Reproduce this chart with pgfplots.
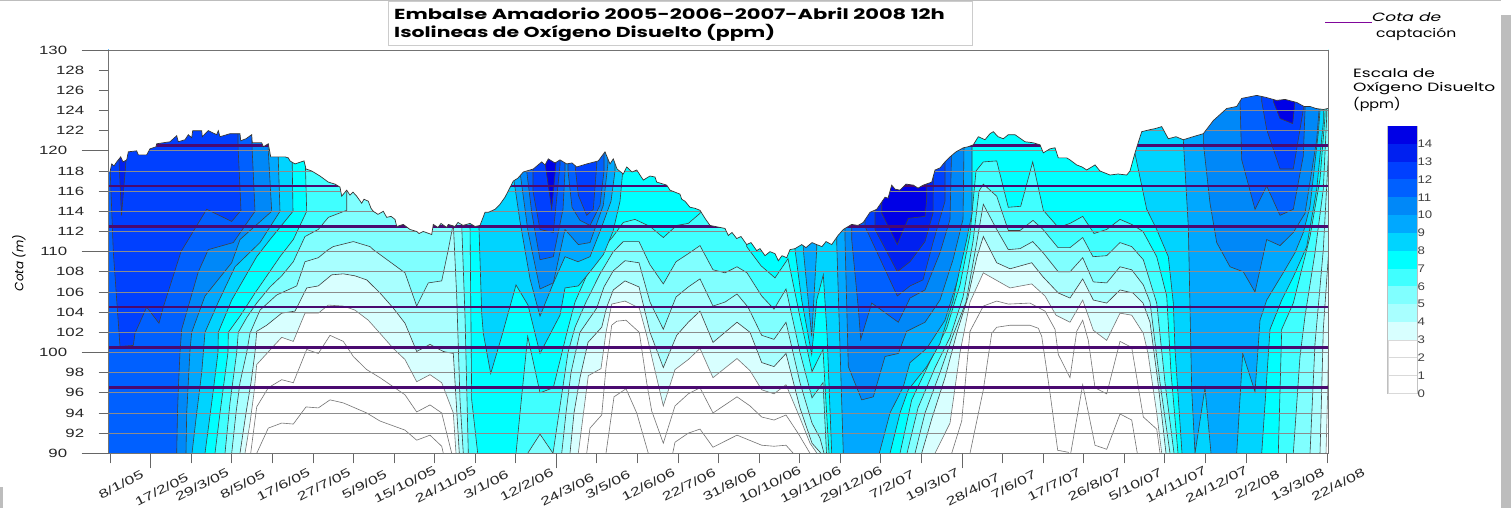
\documentclass[border=0pt]{standalone}
\usepackage{pgfplots}
\pgfplotsset{compat=1.18}
\usepackage{fontspec}
\setmainfont{Liberation Sans}
\newfontfamily\comic{Poppins}
\definecolor{cA}{HTML}{0000E6}\definecolor{cB}{HTML}{0020F0}\definecolor{cC}{HTML}{0040FF}\definecolor{cD}{HTML}{0060FF}
\definecolor{cE}{HTML}{0088F8}\definecolor{cF}{HTML}{00A8FF}\definecolor{cG}{HTML}{00D4FF}\definecolor{cH}{HTML}{00FFFF}
\definecolor{cI}{HTML}{40FFFF}\definecolor{cJ}{HTML}{80FFFF}\definecolor{cK}{HTML}{A8FFFF}\definecolor{cL}{HTML}{D8FFFF}
\definecolor{cP}{HTML}{4A0A70}\definecolor{cS}{HTML}{BDBDBD}
\newcommand\xl[1]{\scalebox{1.45}[1]{#1}}
\newcommand\yl[1]{\scalebox{1.4}[1]{#1}}
\newcommand\lw[1]{\scalebox{1.42}[1]{#1}}
\pgfplotsset{lv/.style={fill=#1,draw=black!75,line width=.6pt},lw/.style={fill=#1,draw=black!55,line width=.6pt},
 gl/.style={draw=black!45,line width=.7pt},pl/.style={draw=cP,line width=2.6pt}}
\begin{document}
\begin{tikzpicture}[x=1pt,y=1pt]
\useasboundingbox (-108.7,-54.7) rectangle (1402.3,453.3);
\fill[cS] (-108.7,452) rectangle (1392.3,453.3);
\fill[cS] (1392.3,-54.7) rectangle (1402.3,438.3);
\fill[cS] (-108.7,-54.7) rectangle (-105.7,-33.7);
\begin{axis}[at={(0pt,0pt)},anchor=south west,scale only axis,width=1219.3pt,height=403.3pt,
 xmin=108.7,xmax=1328,ymin=90,ymax=130,axis on top,
 axis line style={draw=black!55,line width=.8pt},
 tick align=outside,xtick pos=bottom,ytick pos=left,
 tick style={draw=black!60,line width=.8pt},major tick length=10pt,
 xtick={110,191.1,231.7,272.3,312.9,353.4,394,434.6,475.1,515.7,596.8,637.4,678,718.6,759.1,799.7,840.3,880.8,921.4,1002.5,1043.1,1083.7,1124.3,1164.8,1205.4,1246,1286.5,1327.1},
 xticklabels={\xl{8/1/05},\xl{29/3/05},\xl{8/5/05},\xl{17/6/05},\xl{27/7/05},\xl{5/9/05},\xl{15/10/05},\xl{24/11/05},\xl{3/1/06},\xl{12/2/06},\xl{3/5/06},\xl{12/6/06},\xl{22/7/06},\xl{31/8/06},\xl{10/10/06},\xl{19/11/06},\xl{29/12/06},\xl{7/2/07},\xl{19/3/07},\xl{7/6/07},\xl{17/7/07},\xl{26/8/07},\xl{5/10/07},\xl{14/11/07},\xl{24/12/07},\xl{2/2/08},\xl{13/3/08},\xl{22/4/08}},
 extra x ticks={150.6,556.3,962},
 extra x tick labels={\xl{17/2/05},\xl{24/3/06},\xl{28/4/07}},
 extra x tick style={major tick length=15pt},
 xticklabel style={font=\fontsize{12}{12}\selectfont,rotate=27,anchor=center,yshift=-24pt,text=black!85},
 ytick={92,94,96,98,102,104,106,108,112,114,116,118,122,124,126,128},
 yticklabels={\yl{92},\yl{94},\yl{96},\yl{98},\yl{102},\yl{104},\yl{106},\yl{108},\yl{112},\yl{114},\yl{116},\yl{118},\yl{122},\yl{124},\yl{126},\yl{128}},
 extra y ticks={90,100,110,120,130},
 extra y tick labels={\yl{90},\yl{100},\yl{110},\yl{120},\yl{130}},
 extra y tick style={major tick length=27pt},
 yticklabel style={font=\fontsize{12}{12}\selectfont,text=black!85,xshift=-11pt},
 ylabel={\comic\itshape Cota (m)},
 every axis y label/.style={at={(axis description cs:-0.0736,0.472)},rotate=90,anchor=center,font=\fontsize{12}{12}\selectfont},
]
% base band 7-8
\addplot[fill=cH,draw=none] coordinates {(100,85)(1340,85)(1340,135)(100,135)} --cycle;
% ---- low lobes, z < level : first lobe
\addplot[lv=cI] coordinates {(215,85)(215,90)(220,94)(228,100)(228.3,102)(240,103.6)(255,105.9)(262,106.9)(280,109.5)(293.3,111.2)(306.7,114)(305,120)(305,135)(470,135)(470,112.7)(471.7,95.3)(477.7,90)(477.7,85)} --cycle;
\addplot[lv=cJ] coordinates {(225,85)(225,90)(230,95)(236.7,100)(238.3,102)(247,103.5)(256.7,104.9)(270,106.5)(281.7,107.6)(293.3,109)(305,111.5)(318.3,112.2)(328.3,113.4)(346.7,114.1)(346.7,116)(347,135)(461.7,135)(461.7,112.7)(465,103.6)(468.3,90)(468.3,85)} --cycle;
\addplot[lv=cK] coordinates {(231.7,85)(231.7,90)(236,94)(240,97)(246.7,100)(250,101.9)(260,104.2)(276.7,105.7)(296.7,106.6)(305,109)(318.3,109.4)(328.3,110.2)(333.3,110.5)(353.3,111)(370,110.5)(373.3,110.2)(405,107.9)(416.7,104.6)(428.3,106.9)(441.7,107.1)(448.3,110.2)(453.3,112.8)(456.7,105.6)(460,95.3)(463.3,90)(463.3,85)} --cycle;
\addplot[lv=cL] coordinates {(240,85)(240,90)(246,94)(251,97)(255,100)(256.7,102.1)(266.7,102.7)(281.7,103.9)(295,104.1)(306.7,106.4)(318.3,106.6)(331.7,107.7)(343.3,107.8)(355,107.6)(366.7,107.2)(380,105.9)(393.3,104.4)(405,102.9)(416.7,100.1)(430,100.8)(443.3,100.1)(453.3,99.9)(459.3,90)(459.3,85)} --cycle;
\addplot[lw=white] coordinates {(245,85)(245,90)(250,93)(254,96)(256.7,98.8)(273.3,100.6)(281.7,101.5)(293.3,101.1)(305,103.9)(318.3,103.9)(328.3,104.7)(343.3,104.6)(355,104.2)(368.3,103.2)(380,101.9)(393.3,100.4)(405,99.3)(416.7,97.1)(430,97.8)(441.7,97)(453.3,94)(456,90)(456,85)} --cycle;
\addplot[lw=white] coordinates {(250.7,85)(250.7,90)(256.7,94.6)(268.3,96.5)(281.7,97.3)(293.3,97)(306.7,100.3)(318.3,99.9)(330,101.7)(343.3,101.1)(353.3,99.6)(366.7,98.3)(380,97.5)(405,95.8)(416.7,94.1)(430,94.8)(441.7,94)(451.7,90)(451.7,85)} --cycle;
\addplot[lw=white] coordinates {(256.7,85)(256.7,90)(268.3,92.5)(281.7,93)(293.3,92.9)(306,94.6)(318.3,94.5)(330,95.3)(343.3,95)(366.7,94)(380,93.2)(405,92.3)(416.7,91.3)(430,91.8)(441.7,90.7)(443.3,90)(443.3,85)} --cycle;
% second lobe
\addplot[lv=cI] coordinates {(516,85)(516,90)(527.7,101.6)(540,96)(553.3,96.5)(566.7,101.9)(575,105)(590,108.4)(600,110)(613,111.5)(623.3,112.9)(635,113.2)(650,112.5)(663.3,111.4)(676.7,112.6)(688.3,112.8)(700,113.8)(703,115)(703,135)(745,135)(746.7,110.5)(761,108.6)(775,107.4)(788,109.3)(800,103.5)(812,98.1)(823,100.3)(826,95)(829,90)(829,85)} --cycle;
\addplot[lv=cJ] coordinates {(527.7,85)(527.7,90)(540,91.9)(553,90)(562,96)(568,100)(575,102.5)(586,105)(600,107.8)(613.3,110)(623.3,111)(639,111)(650,108.7)(663.3,106.8)(676,109)(688.3,109.8)(700,110.6)(713,108.2)(725,107.9)(737,108.5)(747,107.9)(761.7,105.6)(774,104.3)(786,106.3)(800,100)(812,95.5)(823,97)(825.5,92)(826.5,90)(826.5,85)} --cycle;
\addplot[lv=cK] coordinates {(561.7,85)(561.7,90)(566,94)(571,98)(580,102)(596.7,104.4)(604,106.5)(613.3,108.1)(625,109.1)(639,108.9)(650,105)(663.3,102.3)(676,105.5)(688.3,106.5)(700,107.3)(713,104.6)(725,105)(737,105.8)(748,104.5)(761.7,101.7)(774,101.3)(786,103)(800,97)(812,93)(820,91.5)(824,90)(824,85)} --cycle;
\addplot[lv=cL] coordinates {(570,85)(570,90)(574,94)(580,97.5)(588,101)(601.7,102.5)(606.7,104.5)(613.3,106.2)(625,107.1)(639,106.5)(650,102)(663.3,98.5)(676.7,101.7)(688.3,103)(700,104.1)(713,101)(737,103)(750,102)(761.7,99)(774,98.6)(786,99.9)(800,94.5)(812,91)(821,90)(821,85)} --cycle;
\addplot[lw=white] coordinates {(578.3,85)(578.3,90)(588.3,97.7)(601,98.4)(606,102)(611.7,104.8)(625,105.1)(639.3,104.4)(646.7,101.7)(663.3,94.7)(675,98.3)(688.3,99.3)(700,100.4)(713,97.5)(737,99.4)(750,98.2)(761.7,96.3)(774,95.9)(786,96.8)(800,93.5)(810,91)(817,90)(817,85)} --cycle;
\addplot[lw=white] coordinates {(586.7,85)(586.7,90)(590,92.5)(601.7,93.8)(606,98.5)(611.7,102.7)(616.7,103.1)(626,103.2)(639.3,102)(646.7,97)(651.7,94.2)(663.3,91)(675,94.7)(688.3,95.9)(700,96.5)(713,94)(737,95.6)(750,94.7)(761.7,93.6)(774,93.3)(786,93.8)(798,92)(810,90)(810,85)} --cycle;
\addplot[lw=white] coordinates {(606,85)(606,90)(614,95.6)(626,96.4)(636.7,94)(648.3,90)(648.3,85)} --cycle;
\addplot[lw=white] coordinates {(672.7,85)(672.7,90)(675,91.1)(688.3,92)(700,92.4)(713,90.6)(737,91.8)(761.7,90.8)(774,90.7)(786,90.8)(793.3,90)(793.3,85)} --cycle;
% third lobe
\addplot[lv=cI] coordinates {(900,85)(900,90)(911.7,95.3)(930,99.1)(946.7,102.4)(960,106.7)(970,111.7)(976,118)(983.3,118.9)(996.7,119)(1008.3,114.4)(1020.7,114.5)(1032.7,118.9)(1043.3,114.1)(1058.3,112.4)(1070,112.8)(1082.7,113.5)(1094,111.8)(1106.7,112.2)(1120,113.2)(1131.7,112.7)(1143,112)(1156.7,109.5)(1166.7,105.6)(1171,98)(1178,90)(1178,85)} --cycle;
\addplot[lv=cJ] coordinates {(907,85)(907,90)(918,94.5)(935,98.5)(950,101.5)(963,105.5)(973,111)(979,116)(983.3,116.7)(996.7,115.5)(1008.3,112.1)(1020,112.1)(1033,113.1)(1043,112.2)(1058,110.4)(1070,110.4)(1082.7,111.4)(1093,109.5)(1106.7,109.6)(1120,110.9)(1131.7,110.5)(1143.3,109.2)(1156.7,104.9)(1165,97)(1174,90)(1174,85)} --cycle;
\addplot[lv=cK] coordinates {(915,85)(915,90)(925,94)(940,98)(953,101.7)(966,105)(976,110.5)(983.3,114.7)(996.7,112.2)(1008.3,110.2)(1020,110.3)(1032.7,111)(1043,109.9)(1058.3,108)(1070,108)(1082.7,109.4)(1093.3,107)(1106.7,106.9)(1120,108.5)(1131.7,108.2)(1143.3,106.7)(1150,105)(1160,97)(1170,90)(1170,85)} --cycle;
\addplot[lv=cL] coordinates {(921.7,85)(921.7,90)(932,93.5)(945,97.5)(957,102)(968,105.5)(977,109.5)(983.3,111.5)(996.7,108.9)(1010,108.3)(1031.7,108.9)(1043,107.5)(1058.3,105.9)(1070,105.4)(1082.7,107.3)(1093.3,105.2)(1106.7,104.9)(1120,106.2)(1133,105.9)(1143,104.9)(1150,103)(1158,97)(1166,90)(1166,85)} --cycle;
\addplot[lw=white] coordinates {(935,85)(935,90)(950,93)(960,100)(970,105)(983.3,107.9)(1010,106.4)(1031.7,106.8)(1045,105.6)(1056,103.7)(1070,103)(1082.7,105.2)(1093.3,102.2)(1106.7,101.2)(1120,103.9)(1131.7,103.7)(1143.3,101.9)(1148,99.9)(1156.7,94)(1161.7,90)(1161.7,85)} --cycle;
\addplot[lw=white] coordinates {(951.7,85)(951.7,90)(961.7,93.2)(970,102.1)(983.3,104.6)(996.7,105.1)(1008.3,104.8)(1030,104.9)(1045,104.1)(1055,102.3)(1058.3,99.8)(1070,97.5)(1076.7,102.1)(1082.7,103.2)(1088.3,101.2)(1095,96.5)(1106.7,95.9)(1120,101.1)(1131.7,100.5)(1143.3,93.6)(1156.7,92.4)(1160,90)(1160,85)} --cycle;
\addplot[lw=white] coordinates {(970,85)(970,90)(983.3,96.3)(991.7,101.9)(996.7,102.5)(1010,102.7)(1030,102.7)(1038.3,102.4)(1041.7,101.6)(1050,96)(1057.7,90.3)(1068.3,90.1)(1070.7,85)} --cycle;
\addplot[lw=white] coordinates {(1070.7,85)(1070.7,90)(1082.7,96.8)(1095,90.8)(1106.7,90.4)(1120,93.9)(1131.7,93.3)(1137.3,90)(1137.3,85)} --cycle;
% right lobe
\addplot[lv=cI] coordinates {(1278.3,85)(1278.3,90)(1281.7,102.3)(1293.3,104.9)(1310,111.5)(1320,117.2)(1325,123.4)(1326,135)(1340,135)(1340,85)} --cycle;
\addplot[lv=cJ] coordinates {(1293.3,85)(1293.3,90)(1300,99.6)(1305,103.6)(1315,109.9)(1323.3,116.2)(1326.7,123.4)(1327,135)(1340,135)(1340,85)} --cycle;
\addplot[lv=cK] coordinates {(1310,85)(1310,90)(1315,100.9)(1323.3,110.2)(1328.3,119.5)(1340,119.5)(1340,85)} --cycle;
\addplot[lv=cL] coordinates {(1320,85)(1320,90)(1323.3,102.3)(1328.3,109.5)(1340,109.5)(1340,85)} --cycle;
\addplot[lw=white] coordinates {(1326,85)(1326,90)(1327.7,96.3)(1329,104)(1340,104)(1340,85)} --cycle;
% ---- high lobes, z > level : winter 2005
\addplot[lv=cG] coordinates {(205,85)(205,90)(213,96)(218,100)(218.3,102)(231.7,105.2)(256.7,109.5)(270,111.2)(293,114)(292,120)(292,135)(100,135)(100,85)} --cycle;
\addplot[lv=cF] coordinates {(192,85)(192,90)(196.7,94)(201.7,98)(205,102)(218.3,105)(235,108.5)(260,110.9)(280,114)(278,120)(278,135)(100,135)(100,85)} --cycle;
\addplot[lv=cE] coordinates {(186,85)(186,90)(186.7,94)(190,100.2)(191.7,102)(205,105.6)(231.7,108.9)(240,111.2)(271.7,114)(268,120.5)(268,135)(100,135)(100,85)} --cycle;
\addplot[lv=cD] coordinates {(176.7,85)(176.7,90)(177.5,94)(178.3,96.3)(180,100)(181.7,102.3)(198.3,108)(208.3,110.2)(233.3,110.9)(255,114)(252,120.5)(252,135)(100,135)(100,85)} --cycle;
\addplot[lv=cC] coordinates {(238,135)(238,120.5)(241,114.1)(231.7,113)(206.7,114.2)(181,110)(163.3,104.5)(159,102.9)(146.7,104.5)(135,101.9)(133.3,100.7)(120,100.6)(113.3,110)(110,118.5)(110,135)} --cycle;
\addplot[lv=cB] coordinates {(119,135)(119,119)(121.5,113.6)(126,119)(126,135)} --cycle;
% winter 2006
\addplot[lv=cG] coordinates {(479,135)(479,112.3)(481.7,103.9)(483.3,101.9)(490.7,97.9)(501.7,101.6)(516,106.7)(528,104.7)(540,99.9)(560,103.7)(565,106.4)(578.3,106.6)(590,108)(603.3,109.7)(613,112)(620,115)(623.3,118.6)(623,135)} --cycle;
\addplot[lv=cF] coordinates {(513.3,135)(513.3,117.5)(520,113)(530,107.3)(540,103.6)(553,106.8)(565,109.5)(578,109)(590,109.5)(600,112)(611,115)(615,118)(615,135)} --cycle;
\addplot[lv=cE] coordinates {(520,135)(520,117.9)(528,112)(540,106.3)(553.3,106.9)(565,112.2)(578.3,110.7)(590,110.9)(603.3,114.6)(608,118.8)(608,135)} --cycle;
\addplot[lv=cD] coordinates {(526.7,135)(526.7,118)(531.7,113.9)(540,109.2)(553.3,109.5)(563,114.2)(565,118)(565,135)} --cycle;
\addplot[lv=cD] coordinates {(568,135)(568,118)(572,114.4)(580,113.1)(590,112.6)(600,114.6)(604,118)(604,135)} --cycle;
\addplot[lv=cC] coordinates {(533,135)(533,116)(540,112.2)(553.3,111.9)(560,118.6)(560,135)} --cycle;
\addplot[lv=cC] coordinates {(575,135)(575,118.6)(578.3,115.6)(586.7,113.6)(593.3,114.2)(596.7,118.6)(596.7,135)} --cycle;
\addplot[lv=cA] coordinates {(543.3,135)(545,118.8)(551.7,114.2)(556,118.8)(556,135)} --cycle;
% winter 2006-07
\addplot[lv=cG] coordinates {(795,135)(795,110.2)(801.7,105.2)(811.7,99.8)(816.7,105.2)(823.3,107.7)(827,101.9)(831.7,90)(831.7,85)(890,85)(890,90)(900,94)(908.3,96.3)(926.7,98.6)(940,100.9)(953.3,105.2)(963.3,110.2)(970,115)(970,135)} --cycle;
\addplot[lv=cF] coordinates {(803.3,135)(803.3,110.2)(811.7,101.6)(816.7,110.2)(816.7,135)} --cycle;
\addplot[lv=cF] coordinates {(836.7,135)(836.7,110.9)(843.3,90)(843.3,85)(879.3,85)(879.3,90)(890,94)(903.3,96.6)(910,99)(926.7,100.4)(945,103.2)(956.7,106.9)(966.7,111.2)(972,113.8)(972,135)} --cycle;
\addplot[lv=cE] coordinates {(845,135)(845,111.2)(848.3,98.6)(861.7,95.3)(873.3,95.6)(885,99.6)(898.3,99.9)(906.7,102.1)(925,103)(940,105.2)(953,109.2)(963,113.2)(966,135)} --cycle;
\addplot[lv=cD] coordinates {(851.7,135)(851.7,111.2)(858.3,104.4)(860.7,101.3)(871.7,104.9)(898.3,103)(910,105.4)(925,106.2)(940,109.9)(950,113.2)(955,135)} --cycle;
\addplot[lv=cC] coordinates {(865,135)(865,112.5)(897.3,105.6)(910,106.6)(923,107.2)(933,110.9)(945,115)(945,135)} --cycle;
\addplot[lv=cB] coordinates {(875,135)(875,112.2)(897.3,108)(910,109)(925,111)(933,113.8)(935,135)} --cycle;
\addplot[lv=cA] coordinates {(881.7,135)(881.7,113.8)(897.3,110.7)(908.3,113.3)(925,113.5)(926.7,115.2)(926.7,135)} --cycle;
% winter 2007-08
\addplot[lv=cG] coordinates {(1133.3,135)(1133.3,120.5)(1146.7,114.2)(1156.7,112.2)(1168.3,109.5)(1173.3,104.9)(1175,100.3)(1182,90)(1182,85)(1261.7,85)(1261.7,90)(1270,102.3)(1281.7,105.2)(1293.3,107.5)(1306.7,110.5)(1316.7,116.2)(1323.3,122.8)(1323.3,135)} --cycle;
\addplot[lv=cF] coordinates {(1183.3,135)(1183.3,121.1)(1188.3,112.5)(1191.7,96.3)(1195,90)(1205,96.5)(1211,90)(1211,85)(1236.7,85)(1236.7,90)(1242.7,99.9)(1255,96.1)(1260,103.2)(1266.7,105.2)(1285,108.2)(1295,109.9)(1303.3,111.9)(1310,114.5)(1318.3,121.8)(1320,124)(1320,135)} --cycle;
\addplot[lv=cE] coordinates {(1203.3,135)(1203.3,120.8)(1210,114.8)(1216.7,110.9)(1230,108.5)(1243.3,108)(1255,106)(1266.7,111.2)(1280,110.6)(1293.3,111.9)(1305,113.8)(1316.7,121.1)(1319,124)(1319,135)} --cycle;
\addplot[lv=cD] coordinates {(1240,135)(1240,124.9)(1241.7,119.1)(1255,114.2)(1266.7,116.5)(1280,113.6)(1293.3,114.2)(1303.3,119.5)(1305,124)(1305,135)} --cycle;
\addplot[lv=cC] coordinates {(1261.7,135)(1261.7,124.9)(1266.7,122.1)(1280,118.2)(1293.3,118.2)(1303.3,124.1)(1303.3,135)} --cycle;
\addplot[lv=cA] coordinates {(1273.3,135)(1273.3,124.9)(1280,123.2)(1292.7,122.7)(1295,124.9)(1295,135)} --cycle;
% grid lines
\addplot[gl] coordinates {(100,92)(1340,92)};\addplot[gl] coordinates {(100,94)(1340,94)};\addplot[gl] coordinates {(100,96)(1340,96)};
\addplot[gl] coordinates {(100,98)(1340,98)};\addplot[gl] coordinates {(100,100)(1340,100)};\addplot[gl] coordinates {(100,102)(1340,102)};
\addplot[gl] coordinates {(100,104)(1340,104)};\addplot[gl] coordinates {(100,106)(1340,106)};\addplot[gl] coordinates {(100,108)(1340,108)};
\addplot[gl] coordinates {(100,110)(1340,110)};\addplot[gl] coordinates {(100,112)(1340,112)};\addplot[gl] coordinates {(100,114)(1340,114)};
\addplot[gl] coordinates {(100,116)(1340,116)};\addplot[gl] coordinates {(100,118)(1340,118)};\addplot[gl] coordinates {(100,120)(1340,120)};
\addplot[gl] coordinates {(100,122)(1340,122)};\addplot[gl] coordinates {(100,124)(1340,124)};\addplot[gl] coordinates {(100,126)(1340,126)};
% intake levels
\addplot[pl] coordinates {(100,96.5)(1340,96.5)};\addplot[pl] coordinates {(100,100.5)(1340,100.5)};\addplot[pl] coordinates {(100,104.5)(1340,104.5)};
\addplot[pl] coordinates {(100,112.5)(1340,112.5)};\addplot[pl] coordinates {(100,116.5)(1340,116.5)};\addplot[pl] coordinates {(100,120.5)(1340,120.5)};
% mask above the water surface, then the surface
\pgfplotstableread{
x y
110 117.9
111.7 118.7
114 118.5
116.7 118.9
120.7 119.4
123 118.9
126.7 119.1
128.3 119.9
136.7 120
138.3 119.6
146.7 119.6
150 120.2
156 120.4
156.7 120.7
163.3 120.8
170 120.9
176.7 121.5
178.3 120.9
185 121.1
188.3 121.6
191.7 121.3
192.7 122
201.7 122
202.3 121.4
208.3 122
216.7 121.6
218.3 122
220 121.4
230 121.7
240 121.7
240.7 121
246 121.2
251.7 121.6
252.3 120.8
261.7 120.8
263.3 120.4
268.3 120.7
270.7 119.4
285 119.4
288.3 119.3
290 119
295 118.7
304 119
306 118.2
311.7 118
320 117.5
328.3 116.9
335 116.7
340 116.4
341.7 115.5
346.7 116.1
350 115.6
353 115.9
356.7 115.5
361.7 114.8
364 115.2
368.3 115
371 114.3
373.3 114
378 113.7
383.3 114
386.7 113.4
391 113.5
395 113.2
396.7 112.5
403.3 112.7
410 112.2
416.7 112
419 111.8
423.3 112
431.7 111.7
433.3 112.7
438 112.4
441 112.8
446.7 112.4
448.3 112.7
455 112.5
458 112.9
463 112.6
470 112.8
475 112.5
480 112.6
485 113.9
488.3 113.9
495 114.2
500 114.7
505 115.4
513.3 117
518 117.3
523.3 117.9
533.3 118.2
541.7 118.9
545 118.6
548.3 119.2
555 118.8
560 119.1
566.7 118.7
572 118.8
576.7 118.4
586.7 118.7
598.3 119
605 119.9
610 118.7
613.3 119.2
617 118.2
623.3 117.7
626.7 118.4
632 117.9
636.7 118.1
643.3 117.1
650 117.5
655 117.4
656.7 116.9
666.7 116.6
670 116.1
680 115.7
681.7 115.2
685 115
690 114.4
695 114.3
700 114.1
705 113.3
710 112.6
720 112.4
725 112.3
728.3 111.6
732 111.9
736.7 111.3
741 111.5
746.7 110.7
751 110.9
756.7 110.1
760 110.3
765 109.6
770 110
775 109.8
778.3 109.1
782 109.6
786.7 109.4
790 110.2
795 110.3
801.7 110.7
806 110.4
812 110.9
816.7 110.7
822 110.5
826 111
831.7 110.7
838 111.6
843.3 112.2
851.7 112.7
858 112.6
863.3 112.9
870 113.9
876.7 114.2
885 115.4
888 115.3
891.7 116.6
895 116.2
900 116.1
906 116.7
913.3 116.6
918 116.3
923.3 116.6
931.7 116.9
935 118.1
940 118.3
945 118.9
950 119.4
956 119.9
963.3 120.3
968 120.4
973.3 120.6
978.3 121.4
985 121.1
990 121.7
993.3 121.9
998 121.4
1003.3 121.2
1008.3 121.6
1015 121.6
1025 120.9
1033 120.8
1040 120.6
1043.3 119.8
1050 120.2
1055 120.3
1058.3 119.3
1066.7 119.3
1070 119.1
1076.7 118.6
1082 118.4
1086.7 118.1
1095 118.6
1100 118
1110 117.6
1118 117.7
1126.7 117.6
1130 118
1135 119.8
1141.7 121.9
1150 122.1
1155 122.2
1161.7 122.4
1168.3 121.2
1176 121.4
1183.3 121.1
1193 121.4
1203.3 121.7
1213.3 123
1220 123.6
1226.7 124.2
1236.7 124.4
1241.7 125.2
1256.7 125.5
1266 125.3
1276.7 125
1285 125.1
1296.7 124.8
1304 124.4
1310 124.4
1316 124.2
1323.3 124.1
1328 124.2
}\surf
\addplot[fill=white,draw=none] table {
100 135
100 118
108 118
110 117.9
111.7 118.7
114 118.5
116.7 118.9
120.7 119.4
123 118.9
126.7 119.1
128.3 119.9
136.7 120
138.3 119.6
146.7 119.6
150 120.2
156 120.4
156.7 120.7
163.3 120.8
170 120.9
176.7 121.5
178.3 120.9
185 121.1
188.3 121.6
191.7 121.3
192.7 122
201.7 122
202.3 121.4
208.3 122
216.7 121.6
218.3 122
220 121.4
230 121.7
240 121.7
240.7 121
246 121.2
251.7 121.6
252.3 120.8
261.7 120.8
263.3 120.4
268.3 120.7
270.7 119.4
285 119.4
288.3 119.3
290 119
295 118.7
304 119
306 118.2
311.7 118
320 117.5
328.3 116.9
335 116.7
340 116.4
341.7 115.5
346.7 116.1
350 115.6
353 115.9
356.7 115.5
361.7 114.8
364 115.2
368.3 115
371 114.3
373.3 114
378 113.7
383.3 114
386.7 113.4
391 113.5
395 113.2
396.7 112.5
403.3 112.7
410 112.2
416.7 112
419 111.8
423.3 112
431.7 111.7
433.3 112.7
438 112.4
441 112.8
446.7 112.4
448.3 112.7
455 112.5
458 112.9
463 112.6
470 112.8
475 112.5
480 112.6
485 113.9
488.3 113.9
495 114.2
500 114.7
505 115.4
513.3 117
518 117.3
523.3 117.9
533.3 118.2
541.7 118.9
545 118.6
548.3 119.2
555 118.8
560 119.1
566.7 118.7
572 118.8
576.7 118.4
586.7 118.7
598.3 119
605 119.9
610 118.7
613.3 119.2
617 118.2
623.3 117.7
626.7 118.4
632 117.9
636.7 118.1
643.3 117.1
650 117.5
655 117.4
656.7 116.9
666.7 116.6
670 116.1
680 115.7
681.7 115.2
685 115
690 114.4
695 114.3
700 114.1
705 113.3
710 112.6
720 112.4
725 112.3
728.3 111.6
732 111.9
736.7 111.3
741 111.5
746.7 110.7
751 110.9
756.7 110.1
760 110.3
765 109.6
770 110
775 109.8
778.3 109.1
782 109.6
786.7 109.4
790 110.2
795 110.3
801.7 110.7
806 110.4
812 110.9
816.7 110.7
822 110.5
826 111
831.7 110.7
838 111.6
843.3 112.2
851.7 112.7
858 112.6
863.3 112.9
870 113.9
876.7 114.2
885 115.4
888 115.3
891.7 116.6
895 116.2
900 116.1
906 116.7
913.3 116.6
918 116.3
923.3 116.6
931.7 116.9
935 118.1
940 118.3
945 118.9
950 119.4
956 119.9
963.3 120.3
968 120.4
973.3 120.6
978.3 121.4
985 121.1
990 121.7
993.3 121.9
998 121.4
1003.3 121.2
1008.3 121.6
1015 121.6
1025 120.9
1033 120.8
1040 120.6
1043.3 119.8
1050 120.2
1055 120.3
1058.3 119.3
1066.7 119.3
1070 119.1
1076.7 118.6
1082 118.4
1086.7 118.1
1095 118.6
1100 118
1110 117.6
1118 117.7
1126.7 117.6
1130 118
1135 119.8
1141.7 121.9
1150 122.1
1155 122.2
1161.7 122.4
1168.3 121.2
1176 121.4
1183.3 121.1
1193 121.4
1203.3 121.7
1213.3 123
1220 123.6
1226.7 124.2
1236.7 124.4
1241.7 125.2
1256.7 125.5
1266 125.3
1276.7 125
1285 125.1
1296.7 124.8
1304 124.4
1310 124.4
1316 124.2
1323.3 124.1
1328 124.2
1340 124.2
1340 135
} --cycle;
\addplot[draw=black!80,line width=.7pt] table[x=x,y=y] {\surf};
\end{axis}
% title and legend texts
\draw[black!20,fill=white,line width=.8pt] (279.3,408) rectangle (864,452);
\node[anchor=west,font=\comic\bfseries\fontsize{14.5}{14.5}\selectfont] at (282,439) {\scalebox{1.45}[1]{Embalse Amadorio 2005-2006-2007-Abril 2008 12h}};
\node[anchor=west,font=\comic\bfseries\fontsize{14.5}{14.5}\selectfont] at (282,420) {\scalebox{1.41}[1]{Isolineas de Oxígeno Disuelto (ppm)}};
\draw[cP!70!magenta,line width=1pt] (1216.3,430.6) -- (1263.3,430.6);
\node[anchor=west,inner sep=0pt,font=\comic\itshape\fontsize{12}{12}\selectfont] at (1263.3,436) {\lw{Cota de}};
\node[anchor=west,inner sep=0pt,font=\comic\fontsize{12}{12}\selectfont] at (1267.3,419) {\scalebox{1.3}[1]{captación}};
\node[anchor=west,inner sep=0pt,font=\comic\fontsize{12}{12}\selectfont] at (1244.3,380) {\lw{Escala de}};
\node[anchor=west,inner sep=0pt,font=\comic\fontsize{12}{12}\selectfont] at (1244.3,365) {\lw{Oxígeno Disuelto}};
\node[anchor=west,inner sep=0pt,font=\comic\fontsize{12}{12}\selectfont] at (1244.3,349) {\scalebox{1.2}[1]{(ppm)}};
\begin{axis}[at={(1279pt,60pt)},anchor=south west,scale only axis,width=29.3pt,height=267.3pt,
 xmin=0,xmax=1,ymin=0,ymax=15,xtick=\empty,ytick={0,1,...,14},ytick pos=right,
 yticklabel pos=right,tick style={draw=none},
 axis line style={draw=black!25,line width=.5pt},
 yticklabels={\scalebox{1.2}[1]{0},\scalebox{1.2}[1]{1},\scalebox{1.2}[1]{2},\scalebox{1.2}[1]{3},\scalebox{1.2}[1]{4},\scalebox{1.2}[1]{5},\scalebox{1.2}[1]{6},\scalebox{1.2}[1]{7},\scalebox{1.2}[1]{8},\scalebox{1.2}[1]{9},\scalebox{1.2}[1]{10},\scalebox{1.2}[1]{11},\scalebox{1.2}[1]{12},\scalebox{1.2}[1]{13},\scalebox{1.2}[1]{14}},
 yticklabel style={font=\fontsize{11}{11}\selectfont,text=black!75,xshift=-3pt}]
\addplot[fill=white,draw=black!15] coordinates {(0,0)(1,0)(1,1)(0,1)} --cycle;
\addplot[fill=white,draw=black!15] coordinates {(0,1)(1,1)(1,2)(0,2)} --cycle;
\addplot[fill=white,draw=black!15] coordinates {(0,2)(1,2)(1,3)(0,3)} --cycle;
\addplot[fill=cL,draw=none] coordinates {(0,3)(1,3)(1,4)(0,4)} --cycle;
\addplot[fill=cK,draw=none] coordinates {(0,4)(1,4)(1,5)(0,5)} --cycle;
\addplot[fill=cJ,draw=none] coordinates {(0,5)(1,5)(1,6)(0,6)} --cycle;
\addplot[fill=cI,draw=none] coordinates {(0,6)(1,6)(1,7)(0,7)} --cycle;
\addplot[fill=cH,draw=none] coordinates {(0,7)(1,7)(1,8)(0,8)} --cycle;
\addplot[fill=cG,draw=none] coordinates {(0,8)(1,8)(1,9)(0,9)} --cycle;
\addplot[fill=cF,draw=none] coordinates {(0,9)(1,9)(1,10)(0,10)} --cycle;
\addplot[fill=cE,draw=none] coordinates {(0,10)(1,10)(1,11)(0,11)} --cycle;
\addplot[fill=cD,draw=none] coordinates {(0,11)(1,11)(1,12)(0,12)} --cycle;
\addplot[fill=cC,draw=none] coordinates {(0,12)(1,12)(1,13)(0,13)} --cycle;
\addplot[fill=cB,draw=none] coordinates {(0,13)(1,13)(1,14)(0,14)} --cycle;
\addplot[fill=cA,draw=none] coordinates {(0,14)(1,14)(1,15)(0,15)} --cycle;
\end{axis}
\end{tikzpicture}
\end{document}
